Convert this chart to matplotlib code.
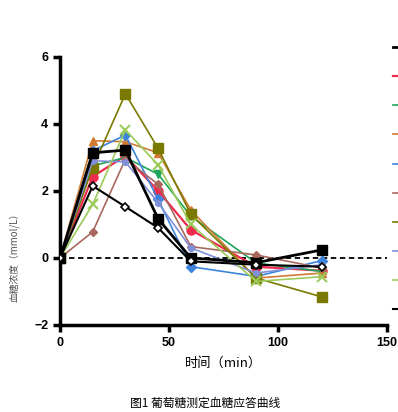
import matplotlib.pyplot as plt

plt.rcParams['font.family'] = ['Noto Sans CJK SC', 'DejaVu Sans']

# time points (min)
times = [0, 15, 30, 45, 60, 90, 120]

# blood glucose change for each subject (mmol/L)
s1 = [0, 3.14, 3.22, 1.17, 0.0, -0.14, 0.24]
s2 = [0, 2.43, 3.05, 2.0, 0.84, -0.26, -0.38]
s3 = [0, 2.75, 3.0, 2.5, 1.25, -0.15, -0.4]
s4 = [0, 3.5, 3.47, 3.14, 1.43, -0.6, -0.45]
s5 = [0, 3.2, 3.67, 1.75, -0.26, -0.55, -0.08]
s6 = [0, 0.78, 2.95, 2.2, 0.34, 0.09, -0.3]
s7 = [0, 2.7, 4.9, 3.27, 1.3, -0.6, -1.16]
s8 = [0, 2.9, 2.87, 1.65, 0.3, -0.45, -0.2]
s9 = [0, 1.6, 3.82, 2.78, 1.0, -0.7, -0.56]
s10 = [0, 2.15, 1.53, 0.9, -0.1, -0.2, -0.26]

series = [s1, s2, s3, s4, s5, s6, s7, s8, s9, s10]
colors = ['#000000', '#EE2A4E', '#1FA55A', '#D07A32', '#3C84DC',
          '#A8685E', '#7A7A00', '#7F8FD8', '#9CCB5A', '#000000']
markers = ['s', 'o', 'v', '^', 'D', 'D', 's', 'h', 'x', 'D']
msizes = [6.5, 6.5, 6, 6, 5, 4.5, 6.5, 4.5, 7, 4.5]
lwidths = [2.0, 1.6, 1.2, 1.2, 1.2, 1.2, 1.2, 1.2, 1.2, 1.5]

fig = plt.figure(figsize=(3.98, 4.12), dpi=100)
ax = fig.add_axes([0.1508, 0.2112, 0.8216, 0.6505])

handles = []
for i, ys in enumerate(series):
    if i == 9:
        ln, = ax.plot(times, ys, color=colors[i], marker=markers[i], ms=msizes[i],
                      lw=lwidths[i], mfc='white', mew=1.2, zorder=3)
    else:
        ln, = ax.plot(times, ys, color=colors[i], marker=markers[i], ms=msizes[i],
                      lw=lwidths[i], mew=1.5 if markers[i] == 'x' else 1,
                      zorder=3 if i == 0 else 2)
    handles.append(ln)

ax.axhline(0, color='black', lw=1.3, ls=(0, (3, 2)), zorder=1)

ax.set_xlim(0, 150)
ax.set_ylim(-2, 6)
ax.set_xticks([0, 50, 100, 150])
ax.set_yticks([-2, 0, 2, 4, 6])
for sp in ['top', 'right']:
    ax.spines[sp].set_visible(False)
for sp in ['left', 'bottom']:
    ax.spines[sp].set_linewidth(2.5)
ax.tick_params(width=2.5, length=5, labelsize=9)
for lab in ax.get_xticklabels() + ax.get_yticklabels():
    lab.set_fontfamily('Liberation Sans')
    lab.set_fontweight('bold')

ax.set_xlabel('时间（min）', fontsize=9.5, labelpad=6)
ax.set_ylabel('血糖浓度（mmol/L）', fontsize=7, color='#555555')
ax.yaxis.set_label_coords(-0.122, 0.26)

# legend sits at the right edge, only the start of each line shows
fig.legend(handles, [''] * len(handles), loc='upper left',
           bbox_to_anchor=(393 / 398, 1 - 43 / 412),
           frameon=False, fontsize=8, labelspacing=1.72, handlelength=2,
           borderaxespad=0, borderpad=0)

fig.text(0.515, 0.022, '图1 葡萄糖测定血糖应答曲线', fontsize=8.5,
         ha='center', va='center')

fig.savefig('out.png', dpi=100)
